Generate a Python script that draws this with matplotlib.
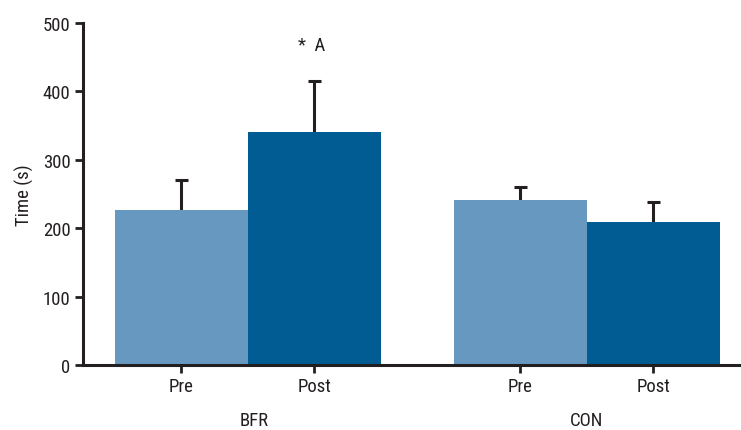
import matplotlib
matplotlib.use("Agg")
import matplotlib.pyplot as plt
import numpy as np

groups = ["BFR", "CON"]
conditions = ["Pre", "Post", "Pre", "Post"]
values = [227, 341, 241, 209]
err_upper = [44, 75, 20, 30]
colors_cond = ["#6799C0", "#005C92", "#6799C0", "#005C92"]

plt.rcParams['font.family'] = ['Liberation Sans Narrow', 'Roboto Condensed', 'DejaVu Sans']

fig = plt.figure(figsize=(7.41, 4.31), dpi=100)
ax = fig.add_axes([0.112, 0.151, 0.888, 0.793])

x = np.array([0, 1, 2.55, 3.55])
vals = np.array(values)
tops = vals + np.array(err_upper)
ax.bar(x, vals, width=1.0, color=colors_cond, zorder=2)
ax.vlines(x, vals, tops, colors="#231f20", linewidth=2.2, zorder=1)
ax.hlines(tops, x - 0.05, x + 0.05, colors="#231f20", linewidth=2.2, zorder=1)

ax.set_xlim(-0.74, 4.21)
ax.set_ylim(0, 500)
ax.set_yticks([0, 100, 200, 300, 400, 500])
ax.set_xticks(x)
ax.set_xticklabels(conditions)
for s in ["top", "right"]:
    ax.spines[s].set_visible(False)
for s in ["left", "bottom"]:
    ax.spines[s].set_linewidth(2.2)
    ax.spines[s].set_color("#231f20")
ax.tick_params(axis='both', width=2, length=6, color="#231f20", labelsize=13.5, labelcolor="#231f20")
ax.tick_params(axis='x', pad=3)
ax.tick_params(axis='y', pad=3)
ax.set_ylabel("Time (s)", fontsize=13.5, color="#231f20", labelpad=6)

ax.text(0.55, -0.135, groups[0], transform=ax.get_xaxis_transform(), ha='center', va='top',
        fontsize=13.5, color="#231f20")
ax.text(3.05, -0.135, groups[1], transform=ax.get_xaxis_transform(), ha='center', va='top',
        fontsize=13.5, color="#231f20")
ax.text(0.98, 468, "*  A", ha='center', va='center', fontsize=13.5, color="#231f20")

fig.savefig("out.png", dpi=100)
